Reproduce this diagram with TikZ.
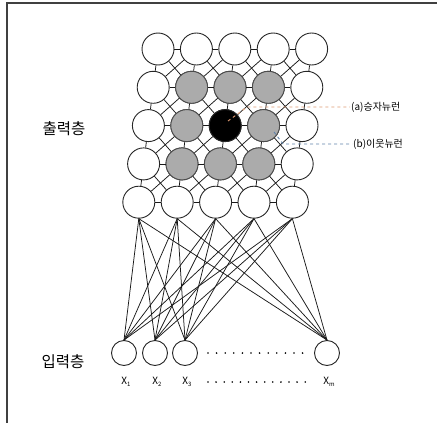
\documentclass[tikz,border=0pt]{standalone}
\usepackage{fontspec}
\usepackage{tikz}
\usetikzlibrary{positioning}
\newfontfamily\kr{Noto Sans CJK KR}
\definecolor{cellgray}{HTML}{ABABAB}
\definecolor{winline}{HTML}{DE9A72}
\definecolor{nbline}{HTML}{5F82AA}
\newcommand{\xlab}[1]{{\kr X\raisebox{-0.3ex}{\fontsize{6}{6}\selectfont #1}}}

\begin{document}
\begin{tikzpicture}[x=1pt,y=-1pt,
    cell/.style={circle,draw=black!85,line width=0.9pt,minimum size=32pt,inner sep=0pt,fill=white},
    innode/.style={circle,draw=black!85,line width=0.9pt,minimum size=25pt,inner sep=0pt,fill=white},
    link/.style={line width=0.75pt,black!90},
    lab/.style={font=\kr\fontsize{10}{11}\selectfont,anchor=west,inner sep=1pt},
    xlabel/.style={font=\fontsize{10}{11}\selectfont},
    layer/.style={font=\kr\fontsize{15.5}{17}\selectfont}]
    \useasboundingbox (0,0) rectangle (437,423);
    % frame
    \draw[line width=1.3pt,black!75] (7,423) -- (7,3) -- (437,3);

    % output layer (5x5 map)
    \foreach \r in {1,...,5} {
        \foreach \c in {1,...,5} {
            \node[cell] (n-\r-\c) at ({158+38.4*(\c-1)-4.8*(\r-1)},{49+38.3*(\r-1)}) {};
        }
    }
    % neighbours and winner
    \foreach \r/\c in {2/2,2/3,2/4,3/2,3/4,4/2,4/3,4/4} {
        \node[cell,fill=cellgray,draw=black!70] at (n-\r-\c) {};
    }
    \node[cell,fill=black] (win) at (n-3-3) {};

    % grid links
    \foreach \r in {1,...,5} {
        \foreach \c [evaluate=\c as \d using int(\c+1)] in {1,...,4} {
            \draw[link] (n-\r-\c) -- (n-\r-\d);
        }
    }
    \foreach \r [evaluate=\r as \s using int(\r+1)] in {1,...,4} {
        \foreach \c in {1,...,5} {
            \draw[link] (n-\r-\c) -- (n-\s-\c);
        }
        \foreach \c [evaluate=\c as \d using int(\c+1)] in {1,...,4} {
            \draw[link] (n-\r-\c) -- (n-\s-\d);
            \draw[link] (n-\r-\d) -- (n-\s-\c);
        }
    }

    % input layer
    \node[innode] (in-1) at (124,353) {};
    \node[innode] (in-2) at (155,353) {};
    \node[innode] (in-3) at (185,353) {};
    \node[innode] (in-4) at (327,353) {};
    \foreach \c in {1,...,5} {
        \foreach \k in {1,...,4} {
            \draw[link] (n-5-\c.south) -- (in-\k.north);
        }
    }
    \foreach \i in {0,...,11} {
        \fill (208+8.6*\i,353) circle (0.9);
    }
    \foreach \i in {0,...,12} {
        \fill (208+8.1*\i,382) circle (0.9);
    }

    % input labels
    \node[xlabel] (x-1) at (126,382) {\xlab{1}};
    \node[xlabel] (x-2) at (157,382) {\xlab{2}};
    \node[xlabel] (x-3) at (187,382) {\xlab{3}};
    \node[xlabel] (x-m) at (329,382) {\xlab{m}};

    % layer names
    \node[layer] (outlayer) at (64,129) {출력층};
    \node[layer] (inlayer) at (63,362) {입력층};

    % annotations
    \node[lab] (winlab) at (350,107) {(a)승자뉴런};
    \node[lab] (nblab) at (352,144) {(b)이웃뉴런};
    \coordinate (winpt) at (228,121);
    \coordinate (nbpt) at (274,132);
    \draw[winline,dashed,line width=0.9pt] (winpt) -- (247,107) -- (winlab.west);
    \draw[nbline,dashed,line width=0.9pt] (nbpt) -- (283,144) -- (nblab.west);
\end{tikzpicture}
\end{document}
